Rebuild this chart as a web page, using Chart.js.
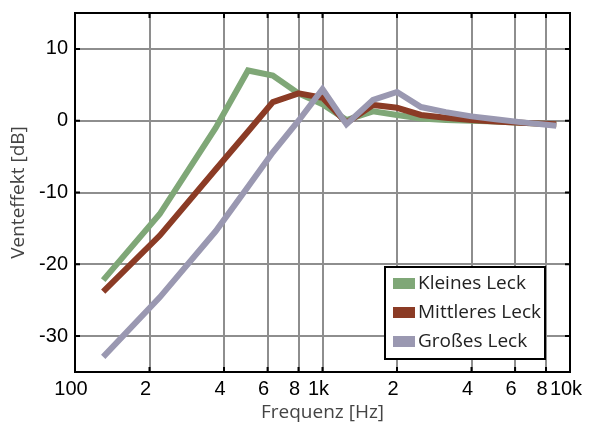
<!DOCTYPE html>
<html>
<head>
<meta charset="utf-8">
<script src="https://cdn.jsdelivr.net/npm/chart.js@4/dist/chart.umd.min.js"></script>
<style>
  html, body { margin: 0; padding: 0; background: #ffffff; }
  #wrap { width: 596px; height: 425px; }
</style>
</head>
<body>
<div id="wrap"><canvas id="chart" width="596" height="425"></canvas></div>
<script>
// Frequenzen (Hz) und Messwerte (dB)
const freqs = [130, 220, 370, 500, 630, 800, 1000, 1250, 1600, 2000, 2500, 3150, 4000, 5000, 6300, 8800];
const kleinesLeck = [-22.2, -13.0, -1.0, 7.0, 6.3, 3.8, 2.3, 0.1, 1.3, 0.8, 0.3, 0.1, 0.0, -0.1, -0.3, -0.5];
const mittleresLeck = [-23.8, -16.0, -6.8, -1.5, 2.6, 3.8, 3.2, -0.3, 2.2, 1.8, 0.8, 0.4, 0.1, -0.1, -0.3, -0.5];
const grossesLeck = [-32.9, -24.6, -15.4, -9.2, -4.4, 0.0, 4.4, -0.5, 2.9, 4.0, 1.9, 1.2, 0.6, 0.2, -0.2, -0.7];

// Achsenbeschriftung
const xTickValues = [100, 200, 400, 600, 800, 1000, 2000, 4000, 6000, 8000, 10000];
const xTickLabels = ["100", "2", "4", "6", "8", "1k", "2", "4", "6", "8", "10k"];
const yTickValues = [-30, -20, -10, 0, 10];

const colors = {
  klein: "#7fa777",
  mittel: "#8b3b25",
  gross: "#9a98b1",
};

function series(values){
  return values.map((v, i) => ({ x: freqs[i], y: v }));
}

function lineSet(label, values, color, order){
  return {
    label: label,
    data: series(values),
    borderColor: color,
    backgroundColor: color,
    borderWidth: 6,
    borderJoinStyle: "miter",
    borderCapStyle: "butt",
    pointRadius: 0,
    tension: 0,
    order: order,
  };
}

// Rahmen, Innen-Ticks und Legende
const framePlugin = {
  id: "frame",
  afterDraw(chart){
    const { ctx, chartArea: a, scales } = chart;
    const xs = scales.x, ys = scales.y;
    ctx.save();
    ctx.strokeStyle = "#000000";
    ctx.lineWidth = 2;
    ctx.beginPath();
    xTickValues.forEach(v => {
      const px = xs.getPixelForValue(v);
      ctx.moveTo(px, a.bottom); ctx.lineTo(px, a.bottom - 5);
      ctx.moveTo(px, a.top); ctx.lineTo(px, a.top + 5);
    });
    yTickValues.forEach(v => {
      const py = ys.getPixelForValue(v);
      ctx.moveTo(a.left, py); ctx.lineTo(a.left + 5, py);
      ctx.moveTo(a.right, py); ctx.lineTo(a.right - 5, py);
    });
    ctx.stroke();
    ctx.strokeRect(a.left, a.top, a.right - a.left, a.bottom - a.top);

    // Legende
    const lx = 385, ly = 267, lw = 160, lh = 92;
    ctx.fillStyle = "#ffffff";
    ctx.fillRect(lx, ly, lw, lh);
    ctx.strokeRect(lx, ly, lw, lh);
    ctx.font = "19px 'Open Sans'";
    ctx.textBaseline = "middle";
    chart.data.datasets.forEach((ds, i) => {
      const cy = ly + 16 + i * 29;
      ctx.fillStyle = ds.borderColor;
      ctx.fillRect(lx + 8, cy - 5, 22, 11);
      ctx.fillStyle = "#222222";
      ctx.fillText(ds.label, lx + 33, cy + 1);
    });
    ctx.restore();
  }
};

new Chart(document.getElementById("chart"), {
  type: "line",
  data: {
    datasets: [
      lineSet("Kleines Leck", kleinesLeck, colors.klein, 3),
      lineSet("Mittleres Leck", mittleresLeck, colors.mittel, 2),
      lineSet("Großes Leck", grossesLeck, colors.gross, 1),
    ],
  },
  options: {
    responsive: false,
    animation: false,
    layout: { padding: { left: 0, right: 26, top: 13, bottom: 0 } },
    plugins: {
      legend: { display: false },
      tooltip: { enabled: false },
    },
    scales: {
      x: {
        type: "logarithmic",
        min: 100,
        max: 10000,
        afterBuildTicks: s => { s.ticks = xTickValues.map(v => ({ value: v })); },
        afterFit: s => { s.height = 53; s.paddingLeft = 0; s.paddingRight = 0; },
        ticks: {
          autoSkip: false,
          maxRotation: 0,
          padding: 5,
          labelOffset: -4,
          color: "#000000",
          font: { family: "'Liberation Sans', Arial", size: 20 },
          callback: (v, i) => xTickLabels[i],
        },
        grid: { color: "#8e8e8e", lineWidth: 2, drawTicks: false },
        border: { display: false },
        title: {
          display: true,
          text: "Frequenz [Hz]",
          color: "#444444",
          font: { family: "'Open Sans'", size: 19 },
          padding: { top: 0, bottom: 1 },
        },
      },
      y: {
        min: -35,
        max: 15,
        afterBuildTicks: s => { s.ticks = yTickValues.map(v => ({ value: v })); },
        afterFit: s => { s.width = 75; s.paddingTop = 0; s.paddingBottom = 0; },
        ticks: {
          padding: 7,
          color: "#000000",
          font: { family: "'Liberation Sans', Arial", size: 20 },
        },
        grid: { color: "#8e8e8e", lineWidth: 2, drawTicks: false },
        border: { display: false },
        title: {
          display: true,
          text: "Venteffekt [dB]",
          color: "#444444",
          font: { family: "'Open Sans'", size: 19 },
          padding: { top: 7, bottom: 0 },
        },
      },
    },
  },
  plugins: [framePlugin],
});
</script>
</body>
</html>
